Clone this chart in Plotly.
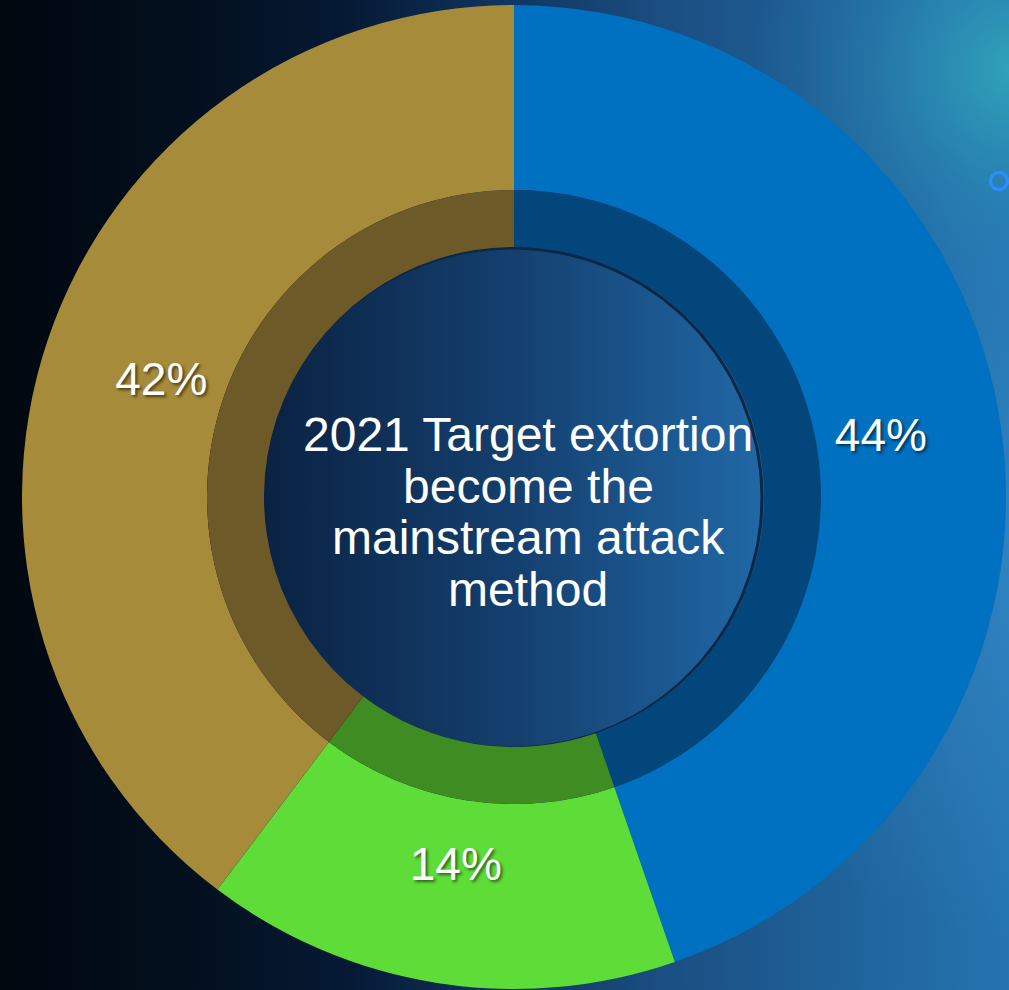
import numpy as np
import plotly.graph_objects as go

# ---- data ----
labels = ["Target extortion", "Other (green)", "Other (gold)"]
values = [44.7, 15.6, 39.7]          # slice sizes as drawn in the reference
value_text = ["44%", "14%", "42%"]   # labels as printed in the reference
colors_outer = ["#0070c0", "#5edc38", "#a68b3a"]
colors_inner = ["#03467c", "#3e8c22", "#6e5a28"]
center_lines = ["2021 Target extortion", "become the", "mainstream attack", "method"]

W, H = 1009, 990
CX, CY = 514, 497          # pixel centre of the donut
R_OUT, R_MID, R_IN = 492, 307, 250
R_LBL = 437                # outer radius of the (transparent) label ring

fig = go.Figure()

def circle(cx, cy, r, n=240):
    t = np.linspace(0, 2 * np.pi, n)
    return cx + r * np.cos(t), cy + r * np.sin(t)

def dom(r):
    return dict(x=[(CX - r) / W, (CX + r) / W],
                y=[(H - CY - r) / H, (H - CY + r) / H])

# background gradient
fig.add_trace(go.Scatter(
    x=[0, W, W, 0, 0], y=[0, 0, H, H, 0], mode="lines", fill="toself",
    line=dict(width=0), hoverinfo="skip", showlegend=False,
    fillgradient=dict(type="horizontal", colorscale=[
        [0.0, "#00070f"], [0.2, "#03101f"], [0.35, "#061a36"],
        [0.5, "#0f3560"], [0.65, "#1a4d80"], [0.8, "#1e5e95"],
        [1.0, "#2474b0"]]),
))
# teal glow top right
gx, gy = circle(1010, 70, 260)
fig.add_trace(go.Scatter(
    x=gx, y=gy, mode="lines", fill="toself", line=dict(width=0),
    hoverinfo="skip", showlegend=False,
    fillgradient=dict(type="radial", colorscale=[
        [0.0, "rgba(50,170,185,0.85)"], [0.5, "rgba(45,150,185,0.35)"],
        [1.0, "rgba(40,120,180,0)"]]),
))
# soft lighter glow on the right edge
gx2, gy2 = circle(1040, 560, 380)
fig.add_trace(go.Scatter(
    x=gx2, y=gy2, mode="lines", fill="toself", line=dict(width=0),
    hoverinfo="skip", showlegend=False,
    fillgradient=dict(type="radial", colorscale=[
        [0.0, "rgba(60,150,215,0.45)"], [1.0, "rgba(60,150,215,0)"]]),
))
# centre circle
ccx, ccy = circle(512, 498, R_IN)
fig.add_trace(go.Scatter(
    x=ccx, y=ccy, mode="lines", fill="toself",
    line=dict(width=3, color="#0b2746"), hoverinfo="skip", showlegend=False,
    fillgradient=dict(type="horizontal", colorscale=[
        [0.0, "#0a2242"], [0.5, "#143f6e"], [1.0, "#2068a6"]]),
))
# small ring decoration
fig.add_trace(go.Scatter(
    x=[999], y=[181], mode="markers", hoverinfo="skip", showlegend=False,
    marker=dict(symbol="circle-open", size=17, color="rgba(50,140,255,0.9)",
                line=dict(width=3.5, color="rgba(50,140,255,0.9)")),
))

# outer donut
fig.add_trace(go.Pie(
    labels=labels, values=values, text=value_text, sort=False,
    direction="clockwise", rotation=0, hole=R_MID / R_OUT, domain=dom(R_OUT),
    marker=dict(colors=colors_outer, line=dict(width=0)),
    textinfo="none", hoverinfo="label+text", showlegend=False,
))
# inner darker ring
fig.add_trace(go.Pie(
    labels=labels, values=values, sort=False, direction="clockwise", rotation=0,
    hole=R_IN / R_MID, domain=dom(R_MID),
    marker=dict(colors=colors_inner, line=dict(width=0)),
    textinfo="none", hoverinfo="skip", showlegend=False,
))
# transparent ring carrying the percentage labels
fig.add_trace(go.Pie(
    labels=labels, values=values, text=value_text, sort=False,
    direction="clockwise", rotation=0, hole=R_MID / R_LBL, domain=dom(R_LBL),
    marker=dict(colors=["rgba(0,0,0,0)"] * 3, line=dict(width=0)),
    texttemplate="%{text}", textposition="inside", insidetextorientation="horizontal",
    textfont=dict(family="Arial, Liberation Sans", size=46, color="white",
                  shadow="2px 2px 3px rgba(0,0,0,0.55)"),
    hoverinfo="skip", showlegend=False,
))

line_y = [434, 486, 537, 589]
for txt, yy in zip(center_lines, line_y):
    fig.add_annotation(x=528, y=yy, xref="x", yref="y", text=txt, showarrow=False,
                       xanchor="center", yanchor="middle",
                       font=dict(family="Arial, Liberation Sans", size=48, color="white"))

fig.update_layout(
    width=W, height=H, margin=dict(l=0, r=0, t=0, b=0),
    paper_bgcolor="#000810", plot_bgcolor="rgba(0,0,0,0)",
    xaxis=dict(range=[0, W], visible=False, fixedrange=True),
    yaxis=dict(range=[H, 0], visible=False, fixedrange=True),
    showlegend=False,
)

fig.write_html("out.html")
